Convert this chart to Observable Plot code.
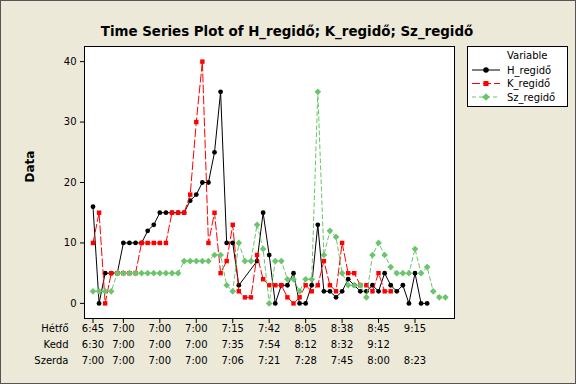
<!DOCTYPE html>
<html><head><meta charset="utf-8">
<script src="https://cdn.jsdelivr.net/npm/d3@7"></script>
<script src="https://cdn.jsdelivr.net/npm/@observablehq/plot@0.6"></script>
<style>
html,body{margin:0;padding:0;background:#ECE9D8;}
#wrap{position:relative;width:576px;height:384px;background:#ECE9D8;overflow:hidden;}
#wrap > svg.main{position:absolute;left:0;top:0;}
#border{position:absolute;left:0;top:0;width:576px;height:384px;box-sizing:border-box;border:1px solid #555;pointer-events:none;}
#wrap > svg#legend{position:absolute;left:467px;top:46px;}
</style>
</head><body>
<div id="wrap"><div id="border"></div></div>
<script>
// ---- data ----
const H = [16,0,5,5,5,10,10,10,10,12, 13,15,15,15,15,15,17,18,20,20, 25,35,10,10,3,null,null,7,15,8, 0,3,3,5,0,0,3,13,2,2, 1,2,4,3,2,2,3,2,5,3, 2,3,0,5,0,0];
const K = [10,15,0,5,5,5,5,5,10,10, 10,10,10,15,15,15,18,30,40,10, 15,5,7,13,2,1,1,8,4,3, 3,3,1,0,1,3,2,3,7,3, 2,10,5,5,3,3,2,5,2,2];
const Sz = [2,2,2,2,5,5,5,5,5,5, 5,5,5,5,5,7,7,7,7,7, 8,8,3,2,10,7,7,13,9,0, 7,7,4,4,2,4,4,35,8,12, 11,5,3,3,3,1,8,10,8,6, 5,5,5,9,5,6,2,1,1];
const seriesNames = ["H_regidő","K_regidő","Sz_regidő"];
const tickIdx = [1,6,12,18,24,30,36,42,48,54];
const hetfo  = ["6:45","7:00","7:00","7:00","7:15","7:42","8:05","8:38","8:45","9:15"];
const kedd   = ["6:30","7:00","7:00","7:00","7:35","7:54","8:12","8:32","9:12",""];
const szerda = ["7:00","7:00","7:00","7:00","7:06","7:21","7:28","7:45","8:00","8:23"];
const stampNames = ["Hétfő","Kedd","Szerda"];
const yTicks = [0,10,20,30,40];
const titleText = "Time Series Plot of H_regidő; K_regidő; Sz_regidő";

// ---- styles ----
const colors = ["#000000","#FF0000","#6CC46C"];
const symbols = ["circle","square","diamond2"];
const radii = [2.4,2.5,3.0];
const dashes = [null,"8,3","4,3"];
const FONT = "DejaVu Sans";

const rowsOf = vals => vals.map((v,i)=>({i:i+1, v})).filter(d => d.v != null);
const allSeries = [H,K,Sz].map(rowsOf);
const stamps = tickIdx.map((t,j)=>({t, h:hetfo[j], k:kedd[j], s:szerda[j]}));

const marks = [
  Plot.frame({fill:"white", stroke:null}),
  Plot.axisY({ticks:yTicks, tickSize:4, tickPadding:4, label:null, fontSize:10}),
  Plot.axisX({ticks:tickIdx, tickSize:5, tickFormat:()=>"", label:null}),
  Plot.text(stamps, {x:"t", text:"h", frameAnchor:"bottom", dy:13}),
  Plot.text(stamps, {x:"t", text:"k", frameAnchor:"bottom", dy:29}),
  Plot.text(stamps, {x:"t", text:"s", frameAnchor:"bottom", dy:45}),
  Plot.text([stampNames[0]], {frameAnchor:"bottom-left", dx:-16, dy:13, textAnchor:"end"}),
  Plot.text([stampNames[1]], {frameAnchor:"bottom-left", dx:-16, dy:29, textAnchor:"end"}),
  Plot.text([stampNames[2]], {frameAnchor:"bottom-left", dx:-16, dy:45, textAnchor:"end"}),
  Plot.text(["Data"], {frameAnchor:"left", dx:-54, rotate:-90, fontWeight:"bold", fontSize:12}),
  Plot.text([titleText], {frameAnchor:"top", dx:17.5, dy:-20, fontWeight:"bold", fontSize:13.4}),
];
allSeries.forEach((rows, s) => {
  marks.push(Plot.line(rows, {x:"i", y:"v", stroke:colors[s], strokeWidth:1, strokeDasharray:dashes[s]}));
  marks.push(Plot.dot(rows, {x:"i", y:"v", symbol:symbols[s], r:radii[s], fill:colors[s], stroke:null}));
});
marks.push(Plot.frame({stroke:"black", strokeWidth:1}));

const chart = Plot.plot({
  width:576, height:384,
  marginLeft:84, marginRight:122, marginTop:46, marginBottom:66,
  style:{background:"transparent", fontFamily:FONT, fontSize:"10px", color:"black", overflow:"visible"},
  x:{domain:[-0.4,60.5], axis:null},
  y:{domain:[-2.5,42.5], axis:null},
  marks
});
chart.classList.add("main");
const wrap = document.getElementById("wrap");
wrap.insertBefore(chart, document.getElementById("border"));

// ---- legend ----
const lg = d3.select(wrap).append("svg").attr("id","legend")
  .attr("width",101).attr("height",61)
  .style("font-family",FONT).style("font-size","10px");
lg.append("rect").attr("x",0.5).attr("y",0.5).attr("width",100).attr("height",60)
  .attr("fill","white").attr("stroke","black");
lg.append("text").attr("x",40).attr("y",13).text("Variable");
const symGen = [d3.symbolCircle, d3.symbolSquare, d3.symbolDiamond2];
seriesNames.forEach((name,s)=>{
  const cy = 24 + s*13.5;
  lg.append("line").attr("x1",5).attr("x2",33).attr("y1",cy).attr("y2",cy)
    .attr("stroke",colors[s]).attr("stroke-dasharray",dashes[s]);
  lg.append("path").attr("transform",`translate(19,${cy})`)
    .attr("d", d3.symbol(symGen[s], Math.PI*radii[s]*radii[s]*1.3)())
    .attr("fill",colors[s]);
  lg.append("text").attr("x",40).attr("y",cy+3.5).text(name);
});
</script>
</body></html>
